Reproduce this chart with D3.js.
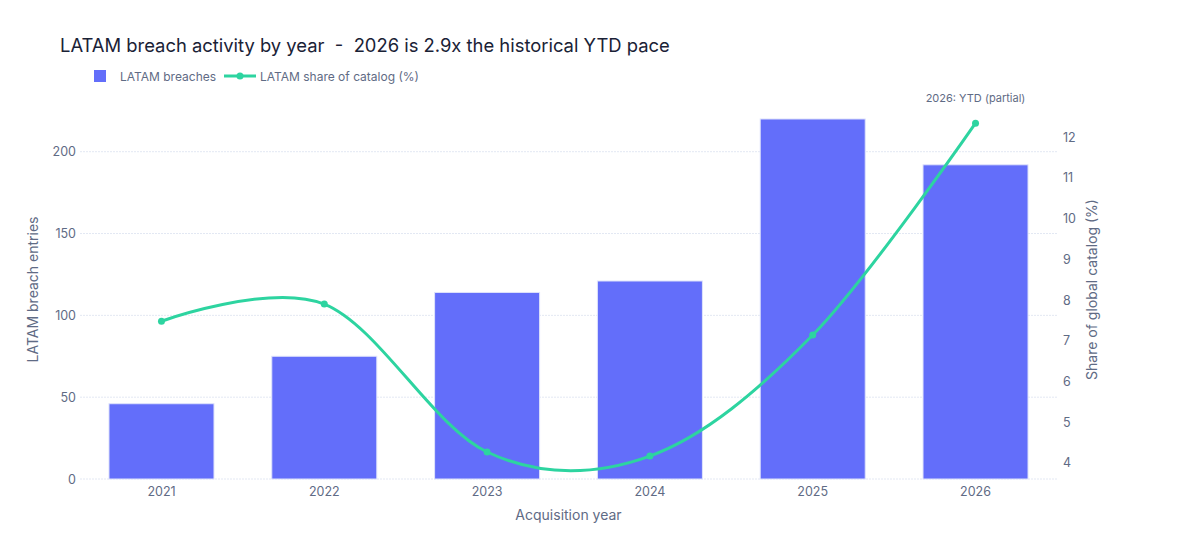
<!DOCTYPE html>
<html>
<head>
<meta charset="utf-8">
<script src="https://cdn.jsdelivr.net/npm/d3@7"></script>
<style>
  body { margin: 0; background: #fff; }
  text { font-family: Inter, "Open Sans", sans-serif; white-space: pre; }
</style>
</head>
<body>
<script>
var years = ["2021", "2022", "2023", "2024", "2025", "2026"];
var breaches = [46, 75, 114, 121, 220, 192];
var sharePct = [7.48, 7.90, 4.27, 4.17, 7.14, 12.34];
var leftTicks = [0, 50, 100, 150, 200];
var rightTicks = [4, 5, 6, 7, 8, 9, 10, 11, 12];

var W = 1200, H = 560;
var plotL = 80, plotR = 1057, plotT = 100, plotB = 479;

var svg = d3.select("body").append("svg")
    .attr("width", W)
    .attr("height", H);

var x = d3.scaleBand().domain(years).range([plotL, plotR]).paddingInner(0.355).paddingOuter(0.178);
var y = d3.scaleLinear().domain([0, 231.6]).range([plotB, plotT]);
var y2 = d3.scaleLinear().domain([3.607, 12.91]).range([plotB, plotT]);

// grid
svg.append("g").selectAll("line")
    .data(leftTicks)
    .enter().append("line")
        .attr("x1", plotL).attr("x2", plotR)
        .attr("y1", function (d) { return y(d); })
        .attr("y2", function (d) { return y(d); })
        .attr("stroke", "#e3e8f3")
        .attr("stroke-width", 1)
        .attr("stroke-dasharray", "2,1");

// bars
svg.append("g").selectAll("rect")
    .data(breaches)
    .enter().append("rect")
        .attr("x", function (d, i) { return x(years[i]); })
        .attr("y", function (d) { return y(d); })
        .attr("width", x.bandwidth())
        .attr("height", function (d) { return plotB - y(d); })
        .attr("fill", "#636efa")
        .attr("stroke", "#dfe3fb")
        .attr("stroke-width", 1);

// share line
var line = d3.line()
    .x(function (d, i) { return x(years[i]) + x.bandwidth() / 2; })
    .y(function (d) { return y2(d); })
    .curve(d3.curveCardinal.tension(0));

svg.append("path")
    .attr("d", line(sharePct))
    .attr("fill", "none")
    .attr("stroke", "#2dd4a0")
    .attr("stroke-width", 3);

svg.append("g").selectAll("circle")
    .data(sharePct)
    .enter().append("circle")
        .attr("cx", function (d, i) { return x(years[i]) + x.bandwidth() / 2; })
        .attr("cy", function (d) { return y2(d); })
        .attr("r", 3.5)
        .attr("fill", "#2dd4a0");

// axes
var tickColor = "#5f6b85";
var xAxis = svg.append("g")
    .attr("transform", "translate(0," + plotB + ")")
    .call(d3.axisBottom(x).tickSize(0).tickPadding(8));
xAxis.select(".domain").remove();
xAxis.selectAll("text").attr("fill", tickColor).attr("font-size", 12.5);

var yAxis = svg.append("g")
    .attr("transform", "translate(" + plotL + ",0)")
    .call(d3.axisLeft(y).tickValues(leftTicks).tickSize(0).tickPadding(4));
yAxis.select(".domain").remove();
yAxis.selectAll("text").attr("fill", tickColor).attr("font-size", 12.5);

var y2Axis = svg.append("g")
    .attr("transform", "translate(" + plotR + ",0)")
    .call(d3.axisRight(y2).tickValues(rightTicks).tickSize(0).tickPadding(6));
y2Axis.select(".domain").remove();
y2Axis.selectAll("text").attr("fill", tickColor).attr("font-size", 12.5);

// axis titles
svg.append("text")
    .attr("transform", "translate(38," + ((plotT + plotB) / 2) + ") rotate(-90)")
    .attr("text-anchor", "middle")
    .attr("fill", tickColor)
    .attr("font-size", 14)
    .text("LATAM breach entries");

svg.append("text")
    .attr("transform", "translate(1097," + ((plotT + plotB) / 2) + ") rotate(-90)")
    .attr("text-anchor", "middle")
    .attr("fill", tickColor)
    .attr("font-size", 14)
    .text("Share of global catalog (%)");

svg.append("text")
    .attr("x", (plotL + plotR) / 2)
    .attr("y", 520)
    .attr("text-anchor", "middle")
    .attr("fill", tickColor)
    .attr("font-size", 14)
    .text("Acquisition year");

// title
svg.append("text")
    .attr("x", 60)
    .attr("y", 52)
    .attr("fill", "#1a2236")
    .attr("font-size", 18.4)
    .text("LATAM breach activity by year  -  2026 is 2.9x the historical YTD pace");

// legend
var lg = svg.append("g");
lg.append("rect").attr("x", 94).attr("y", 70).attr("width", 12).attr("height", 12).attr("fill", "#636efa");
lg.append("text").attr("x", 120).attr("y", 80.5).attr("fill", tickColor).attr("font-size", 12).text("LATAM breaches");
lg.append("line").attr("x1", 224).attr("x2", 256).attr("y1", 76).attr("y2", 76)
    .attr("stroke", "#2dd4a0").attr("stroke-width", 3);
lg.append("circle").attr("cx", 240).attr("cy", 76).attr("r", 3.5).attr("fill", "#2dd4a0");
lg.append("text").attr("x", 260).attr("y", 80.5).attr("fill", tickColor).attr("font-size", 12).text("LATAM share of catalog (%)");

// annotation
svg.append("text")
    .attr("x", x("2026") + x.bandwidth() / 2)
    .attr("y", 102)
    .attr("text-anchor", "middle")
    .attr("fill", tickColor)
    .attr("font-size", 11)
    .text("2026: YTD (partial)");
</script>
</body>
</html>
